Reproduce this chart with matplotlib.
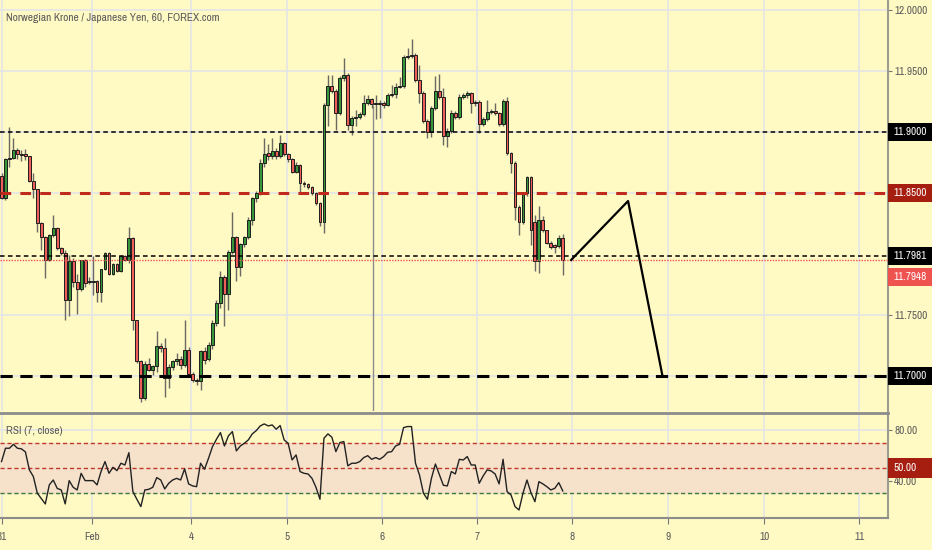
import matplotlib
matplotlib.use('Agg')

import matplotlib.pyplot as plt
import matplotlib.transforms as mtransforms
from matplotlib import font_manager
from matplotlib.patches import Rectangle
import numpy as np

# NOK/JPY hourly candles (31 Jan -> 7 Feb)
opens = [11.864, 11.846, 11.878, 11.879, 11.885, 11.882, 11.882, 11.880, 11.860, 11.853,
         11.825, 11.814, 11.795, 11.8156, 11.821, 11.805, 11.801, 11.762, 11.794, 11.777,
         11.771, 11.795, 11.777, 11.7775, 11.778, 11.769, 11.788, 11.801, 11.784, 11.792,
         11.786, 11.798, 11.795, 11.813, 11.746, 11.712, 11.682, 11.7097, 11.7045, 11.7078,
         11.7242, 11.7228, 11.6983, 11.7073, 11.7119, 11.7138, 11.7092, 11.7215, 11.7018, 11.6969,
         11.6955, 11.7201, 11.7138, 11.7253, 11.7433, 11.7602, 11.7815, 11.7673, 11.802, 11.8137,
         11.7897, 11.8083, 11.8137, 11.8279, 11.8457, 11.8503, 11.8743, 11.8825, 11.8803, 11.8847,
         11.8803, 11.8907, 11.882, 11.8776, 11.8675, 11.873, 11.858, 11.857, 11.855, 11.8498,
         11.8416, 11.8266, 11.9222, 11.9377, 11.9339, 11.9153, 11.944, 11.9467, 11.9058, 11.9113,
         11.9126, 11.9146, 11.9236, 11.9268, 11.923, 11.9241, 11.924, 11.9222, 11.9304, 11.931,
         11.9372, 11.9377, 11.9618, 11.9623, 11.963, 11.9427, 11.9323, 11.9093, 11.9003, 11.920,
         11.9339, 11.9284, 11.8968, 11.9011, 11.9153, 11.9126, 11.929, 11.9303, 11.9317, 11.9249,
         11.9249, 11.9066, 11.9104, 11.9167, 11.9175, 11.9153, 11.9066, 11.9257, 11.8825, 11.8744,
         11.8383, 11.8266, 11.8498, 11.8635, 11.826, 11.7939, 11.828, 11.8193, 11.8094, 11.8075,
         11.8067, 11.8135]
highs = [11.866, 11.879, 11.904, 11.895, 11.887, 11.885, 11.886, 11.880, 11.866, 11.853,
         11.826, 11.815, 11.816, 11.832, 11.822, 11.806, 11.803, 11.799, 11.797, 11.784,
         11.795, 11.796, 11.781, 11.798, 11.779, 11.788, 11.802, 11.802, 11.793, 11.793,
         11.799, 11.799, 11.8225, 11.814, 11.746, 11.713, 11.712, 11.7146, 11.709, 11.7365,
         11.727, 11.731, 11.710, 11.713, 11.719, 11.716, 11.746, 11.7235, 11.703, 11.698,
         11.7215, 11.724, 11.728, 11.746, 11.762, 11.786, 11.783, 11.803, 11.8348, 11.815,
         11.809, 11.815, 11.830, 11.847, 11.852, 11.878, 11.8948, 11.890, 11.8948, 11.887,
         11.8975, 11.892, 11.883, 11.879, 11.875, 11.874, 11.860, 11.858, 11.856, 11.851,
         11.843, 11.924, 11.9467, 11.947, 11.935, 11.946, 11.9604, 11.948, 11.913, 11.918,
         11.916, 11.9304, 11.9304, 11.928, 11.930, 11.926, 11.925, 11.932, 11.9386, 11.940,
         11.9454, 11.963, 11.9686, 11.976, 11.965, 11.955, 11.934, 11.911, 11.921, 11.946,
         11.9476, 11.936, 11.903, 11.918, 11.917, 11.931, 11.932, 11.934, 11.933, 11.926,
         11.926, 11.912, 11.9262, 11.919, 11.9235, 11.916, 11.927, 11.929, 11.884, 11.876,
         11.840, 11.851, 11.864, 11.864, 11.832, 11.8394, 11.831, 11.820, 11.811, 11.808,
         11.8157, 11.8165]
lows = [11.845, 11.844, 11.871, 11.878, 11.878, 11.876, 11.877, 11.859, 11.846, 11.818,
        11.803, 11.780, 11.794, 11.814, 11.803, 11.799, 11.746, 11.749, 11.773, 11.751,
        11.770, 11.773, 11.775, 11.7665, 11.761, 11.761, 11.787, 11.783, 11.783, 11.785,
        11.785, 11.794, 11.793, 11.738, 11.711, 11.679, 11.680, 11.704, 11.701, 11.703,
        11.720, 11.683, 11.690, 11.705, 11.709, 11.706, 11.707, 11.700, 11.695, 11.6928,
        11.6887, 11.710, 11.712, 11.722, 11.741, 11.756, 11.7406, 11.7542, 11.800, 11.7775,
        11.7821, 11.806, 11.812, 11.824, 11.843, 11.848, 11.871, 11.877, 11.878, 11.878,
        11.879, 11.880, 11.8757, 11.866, 11.866, 11.849, 11.855, 11.853, 11.848, 11.840,
        11.823, 11.817, 11.905, 11.932, 11.9017, 11.914, 11.942, 11.9017, 11.8976, 11.905,
        11.911, 11.913, 11.922, 11.920, 11.911, 11.9113, 11.920, 11.921, 11.929, 11.928,
        11.936, 11.936, 11.960, 11.961, 11.941, 11.9235, 11.907, 11.8949, 11.8963, 11.918,
        11.927, 11.889, 11.888, 11.899, 11.911, 11.911, 11.927, 11.928, 11.9153, 11.921,
        11.899, 11.905, 11.909, 11.915, 11.914, 11.905, 11.905, 11.881, 11.866, 11.828,
        11.8157, 11.8245, 11.8475, 11.8075, 11.7857, 11.7843, 11.818, 11.808, 11.804, 11.8007,
        11.805, 11.7829]
closes = [11.846, 11.878, 11.879, 11.885, 11.882, 11.8815, 11.880, 11.860, 11.853, 11.825,
          11.814, 11.795, 11.8156, 11.821, 11.805, 11.801, 11.762, 11.794, 11.777, 11.771,
          11.795, 11.776, 11.7775, 11.778, 11.769, 11.788, 11.8006, 11.784, 11.792, 11.786,
          11.798, 11.795, 11.813, 11.746, 11.712, 11.682, 11.7097, 11.7045, 11.7078, 11.7242,
          11.7228, 11.6983, 11.7073, 11.7119, 11.7138, 11.7092, 11.7215, 11.7018, 11.6969, 11.6955,
          11.7201, 11.7127, 11.7253, 11.7433, 11.7602, 11.7815, 11.7673, 11.802, 11.8143, 11.7897,
          11.8083, 11.8137, 11.8279, 11.8457, 11.8503, 11.8743, 11.882, 11.8803, 11.8847, 11.8803,
          11.8907, 11.882, 11.8776, 11.8675, 11.873, 11.858, 11.857, 11.855, 11.8498, 11.8416,
          11.8266, 11.9222, 11.9377, 11.9339, 11.9153, 11.944, 11.9467, 11.9058, 11.9113, 11.9126,
          11.9146, 11.9236, 11.9268, 11.923, 11.9241, 11.9227, 11.9222, 11.9304, 11.931, 11.9372,
          11.9377, 11.9618, 11.9623, 11.963, 11.9427, 11.9323, 11.9093, 11.9003, 11.920, 11.9339,
          11.929, 11.8968, 11.9011, 11.9153, 11.9126, 11.929, 11.9303, 11.9322, 11.9235, 11.9235,
          11.9066, 11.9104, 11.9167, 11.9175, 11.9153, 11.9066, 11.9257, 11.8825, 11.8749, 11.8383,
          11.8266, 11.8498, 11.8635, 11.8198, 11.7939, 11.828, 11.8193, 11.8094, 11.8061, 11.8061,
          11.8129, 11.7948]

# RSI(7) as drawn in the lower pane
rsi = [55.3, 65.9, 65.9, 69.0, 65.9, 65.4, 63.0, 48.7, 43.4, 30.2,
       26.0, 21.7, 36.8, 40.7, 34.0, 32.8, 21.7, 40.2, 34.9, 32.8,
       46.0, 40.2, 40.2, 40.2, 36.8, 47.4, 55.3, 46.0, 50.8, 48.1,
       54.0, 52.6, 62.4, 31.5, 25.4, 19.6, 32.8, 33.3, 34.9, 42.6,
       40.7, 33.6, 38.1, 40.7, 42.0, 40.7, 49.5, 37.6, 36.0, 35.4,
       54.0, 49.2, 57.9, 67.2, 73.0, 78.3, 67.7, 75.7, 79.1, 63.8,
       67.7, 69.8, 72.5, 77.3, 79.9, 83.6, 85.2, 83.6, 84.4, 81.0,
       83.9, 72.5, 69.8, 56.6, 60.6, 47.4, 46.0, 45.5, 42.0, 34.9,
       25.4, 73.8, 77.3, 74.6, 63.2, 70.4, 71.2, 51.9, 54.0, 54.0,
       55.3, 58.5, 60.0, 57.1, 58.5, 57.1, 59.3, 62.7, 63.2, 67.7,
       69.0, 82.3, 83.1, 83.1, 54.0, 44.7, 30.2, 25.4, 42.0, 53.4,
       45.0, 36.5, 36.0, 47.4, 45.5, 57.1, 56.6, 59.3, 52.6, 52.6,
       38.1, 43.9, 48.7, 47.9, 45.5, 37.6, 57.1, 31.5, 28.8, 19.6,
       16.9, 30.2, 40.7, 30.7, 23.5, 39.4, 37.6, 35.4, 32.8, 34.1,
       38.6, 32.0]

day_labels = ['31', 'Feb', '4', '5', '6', '7', '8', '9', '10', '11']
day_start = [0.1, 22.7, 47.6, 71.7, 95.6, 119.5, 143.3, 167.5, 191.6, 215.5]

support_resist = [11.90, 11.85, 11.7981, 11.70]
last_price = 11.7948
rsi_levels = [70, 50, 30]

# projected path drawn on the chart
proj_x = [143.1, 157.4, 166.0]
proj_y = [11.7951, 11.8434, 11.7008]
vline_x, vline_top = 93.4, 11.922

BG = '#fff9c4'
GRID = '#e4e4e6'
TXT = '#5a5a5a'
GREEN = '#37963a'
RED = '#ef5f5a'
DARKRED = '#a61e0f'

# the original uses a narrow UI font; pick a condensed face if one exists
fonts = font_manager.fontManager.ttflist
narrow = [f for f in fonts if 'Narrow' in f.name or 'Condensed' in f.name]
cond_dejavu = [f for f in fonts if f.name == 'DejaVu Sans' and f.stretch == 'condensed']
if narrow:
    FONT = dict(family=[narrow[0].name, 'DejaVu Sans'])
    FS = 8
elif cond_dejavu:
    FONT = dict(family=['DejaVu Sans'], stretch='condensed')
    FS = 7.6
else:
    FONT = dict(family=['Liberation Sans', 'DejaVu Sans'])
    FS = 7.2

plt.rcParams['font.family'] = FONT['family']
if 'stretch' in FONT:
    plt.rcParams['font.stretch'] = FONT['stretch']

W, H = 932, 550
fig = plt.figure(figsize=(W / 100, H / 100), dpi=100)
fig.patch.set_facecolor(BG)

ax = fig.add_axes([0, 1 - 411 / H, 888 / W, 411 / H])
ax_r = fig.add_axes([0, 1 - 518.3 / H, 888 / W, (518.3 - 412.7) / H])

for a in (ax, ax_r):
    a.set_facecolor(BG)
    a.set_xlim(-0.38, 222.7)
    a.set_xticks(day_start)
    a.grid(True, color=GRID, lw=1.2, zorder=0)
    a.set_axisbelow(True)
    for s in a.spines.values():
        s.set_visible(False)
    a.spines['right'].set_visible(True)
    a.spines['right'].set_color('#9c9c90')
    a.spines['right'].set_linewidth(1.5)
    a.yaxis.tick_right()

# ---- price pane ----
ax.set_ylim(11.6713, 12.0082)
ax.set_yticks([11.70, 11.75, 11.85, 11.90, 11.95, 12.00])
ax.set_yticklabels(['', '11.7500', '', '', '11.9500', '12.0000'])
ax.tick_params(axis='y', length=3, pad=1.5, color='#777777', labelsize=FS, labelcolor=TXT)
ax.tick_params(axis='x', length=0, labelbottom=False)

o = np.array(opens)
c = np.array(closes)
idx = np.arange(len(o))
ax.vlines(idx, lows, highs, color='#6a6a62', lw=1, zorder=2)
body_lo = np.minimum(o, c)
body_h = np.abs(c - o)
min_h = 0.0007
body_lo = np.where(body_h < min_h, (o + c) / 2 - min_h / 2, body_lo)
body_h = np.maximum(body_h, min_h)
colors = np.where(c >= o, GREEN, RED)
ax.bar(idx, body_h, bottom=body_lo, width=0.72, color=colors,
       edgecolor='#1e1e1e', linewidth=0.7, zorder=3)

ax.axhline(support_resist[0], color='black', lw=1.1, ls=(0, (3, 2.2)), zorder=4)
ax.axhline(support_resist[1], color='#bf2a1c', lw=2.2, ls=(0, (3.5, 3)), zorder=4)
ax.axhline(support_resist[2], color='black', lw=1.1, ls=(0, (3, 2.2)), zorder=4)
ax.axhline(last_price, color='#ef5350', lw=1, ls=(0, (1, 1)), zorder=4)
ax.axhline(support_resist[3], color='black', lw=2.2, ls=(0, (4, 2.5)), zorder=4)

ax.vlines(vline_x, 11.6713, vline_top, color='#8c8c8c', lw=1, zorder=1)
ax.plot(proj_x, proj_y, color='black', lw=1.6, zorder=5)

fig.text(6 / W, 1 - 18 / H, 'Norwegian Krone / Japanese Yen, 60, FOREX.com',
         fontsize=FS + 0.2, color=TXT, va='center', ha='left')


def price_box(a, y_val, label, fc, box_px, shift_px=0):
    y0, y1 = a.get_ylim()
    px = a.get_position().height * H
    unit = (y1 - y0) / px
    yc = y_val - shift_px * unit
    tr = mtransforms.blended_transform_factory(a.transAxes, a.transData)
    a.add_patch(Rectangle((1.0, yc - box_px / 2 * unit), 0.06, box_px * unit,
                          transform=tr, fc=fc, ec='none', clip_on=False, zorder=10))
    off = mtransforms.ScaledTranslation(5 / 100, 0, fig.dpi_scale_trans)
    a.text(1.0, yc, label, transform=tr + off, color='white', fontsize=FS,
           va='center', ha='left', clip_on=False, zorder=11)


price_box(ax, support_resist[0], '11.9000', 'black', 18)
price_box(ax, support_resist[1], '11.8500', DARKRED, 18)
price_box(ax, support_resist[2], '11.7981', 'black', 18)
price_box(ax, last_price, '11.7948', '#ef5350', 18, shift_px=16.5)
price_box(ax, support_resist[3], '11.7000', 'black', 18)

# ---- RSI pane ----
ax_r.set_ylim(10.3, 94.1)
ax_r.spines['top'].set_visible(True)
ax_r.spines['top'].set_color('#8c8c8c')
ax_r.spines['top'].set_linewidth(2)
ax_r.spines['bottom'].set_visible(True)
ax_r.spines['bottom'].set_color('#8c8c8c')
ax_r.spines['bottom'].set_linewidth(1.5)
ax_r.set_yticks([40, 80])
ax_r.set_yticklabels(['40.00', '80.00'])
ax_r.tick_params(axis='y', length=3, pad=1.5, color='#777777', labelsize=FS, labelcolor=TXT)
ax_r.set_xticklabels(day_labels)
ax_r.tick_params(axis='x', length=4, pad=6, color='#777777', labelsize=FS, labelcolor=TXT)

ax_r.axhspan(rsi_levels[2], rsi_levels[0], color='#f6e2cb', zorder=1)
ax_r.axhline(rsi_levels[0], color='#c0392b', lw=1, ls=(0, (3, 2)), zorder=2)
ax_r.axhline(rsi_levels[1], color='#c0392b', lw=1, ls=(0, (3, 2)), zorder=2)
ax_r.axhline(rsi_levels[2], color='#3b7a3b', lw=1, ls=(0, (3, 2)), zorder=2)
ax_r.plot(idx, rsi, color='#222222', lw=1, zorder=3)

ax_r.text(6 / 888, 1 - (431 - 412.7) / (518.3 - 412.7), 'RSI (7, close)',
          transform=ax_r.transAxes, fontsize=FS + 0.2, color=TXT, va='center', ha='left')
price_box(ax_r, rsi_levels[1], '50.00', DARKRED, 20)

plt.savefig('out.png', dpi=100, facecolor=BG)
